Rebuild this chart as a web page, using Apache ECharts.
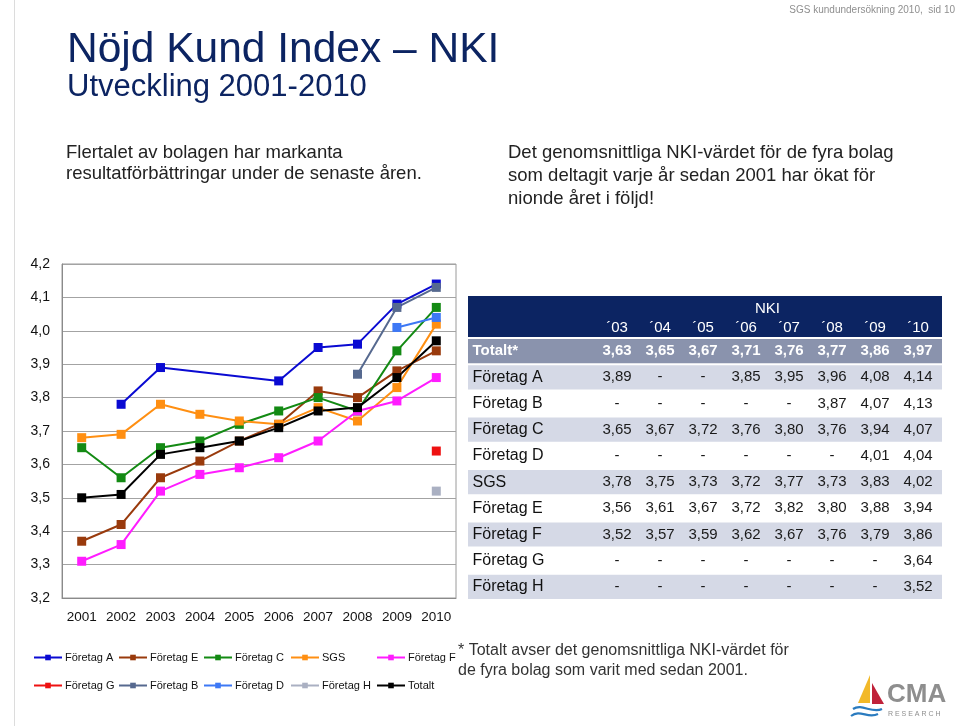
<!DOCTYPE html>
<html>
<head>
<meta charset="utf-8">
<script src="https://cdn.jsdelivr.net/npm/echarts@6/dist/echarts.min.js"></script>
<style>
  html, body { margin: 0; padding: 0; background: #fff; }
  #chart { width: 960px; height: 726px; }
</style>
</head>
<body>
<div id="chart"></div>
<script>
// ---------- DATA ----------
const years = ['2001', '2002', '2003', '2004', '2005', '2006', '2007', '2008', '2009', '2010'];
const foretagA = [null, 3.78, 3.89, null, null, 3.85, 3.95, 3.96, 4.08, 4.14];
const foretagE = [3.37, 3.42, 3.56, 3.61, 3.67, 3.72, 3.82, 3.80, 3.88, 3.94];
const foretagC = [3.65, 3.56, 3.65, 3.67, 3.72, 3.76, 3.80, 3.76, 3.94, 4.07];
const sgs      = [3.68, 3.69, 3.78, 3.75, 3.73, 3.72, 3.77, 3.73, 3.83, 4.02];
const foretagF = [3.31, 3.36, 3.52, 3.57, 3.59, 3.62, 3.67, 3.76, 3.79, 3.86];
const foretagG = [null, null, null, null, null, null, null, null, null, 3.64];
const foretagB = [null, null, null, null, null, null, null, 3.87, 4.07, 4.13];
const foretagD = [null, null, null, null, null, null, null, null, 4.01, 4.04];
const foretagH = [null, null, null, null, null, null, null, null, null, 3.52];
const totalt   = [3.50, 3.51, 3.63, 3.65, 3.67, 3.71, 3.76, 3.77, 3.86, 3.97];
const yTicks = { min: 3.2, max: 4.2, interval: 0.1 };

// table (NKI '03 - '10)
const tableYears = ['\u00B403', '\u00B404', '\u00B405', '\u00B406', '\u00B407', '\u00B408', '\u00B409', '\u00B410'];
const tableRowNames = ['Totalt*', 'Företag A', 'Företag B', 'Företag C', 'Företag D', 'SGS', 'Företag E', 'Företag F', 'Företag G', 'Företag H'];
const tableRowData = [totalt, foretagA, foretagB, foretagC, foretagD, sgs, foretagE, foretagF, foretagG, foretagH];
const tableFirstYearIndex = 2; // 2003

// ---------- STYLES ----------
const seriesDefs = [
  { name: 'Företag A', data: foretagA, color: '#0a0ad2' },
  { name: 'Företag E', data: foretagE, color: '#993a0c' },
  { name: 'Företag C', data: foretagC, color: '#138a13' },
  { name: 'SGS',       data: sgs,      color: '#ff8f12' },
  { name: 'Företag F', data: foretagF, color: '#ff1cff' },
  { name: 'Företag G', data: foretagG, color: '#ee1111' },
  { name: 'Företag B', data: foretagB, color: '#56698f' },
  { name: 'Företag D', data: foretagD, color: '#3d78f5' },
  { name: 'Företag H', data: foretagH, color: '#aab0c2' },
  { name: 'Totalt',    data: totalt,   color: '#000000' }
];
const FONT = '"Liberation Sans", Arial, Helvetica, sans-serif';
const NAVY = '#0c2462';
const rowFill = i => i === 0 ? '#8a93ad' : (i % 2 === 1 ? '#d5d9e6' : '#ffffff');

const fmt = v => (v == null ? '-' : v.toFixed(2).replace('.', ','));

// table cells
const cellData = [];
tableRowData.forEach((arr, r) => {
  tableYears.forEach((y, c) => {
    cellData.push({ value: [c, r], txt: fmt(arr[tableFirstYearIndex + c]) });
  });
});
const rowData = tableRowNames.map((n, r) => ({ value: [0, r], txt: n }));

const chart = echarts.init(document.getElementById('chart'), null, { renderer: 'canvas' });

const lineSeries = seriesDefs.map(s => ({
  name: s.name,
  type: 'line',
  xAxisIndex: 0,
  yAxisIndex: 0,
  data: s.data,
  connectNulls: true,
  symbol: 'rect',
  symbolSize: 9,
  showSymbol: true,
  lineStyle: { color: s.color, width: 2 },
  itemStyle: { color: s.color },
  emphasis: { disabled: true },
  animation: false
}));

const legendCols = [
  { left: 33,  data: ['Företag A', 'Företag G'] },
  { left: 118, data: ['Företag E', 'Företag B'] },
  { left: 203, data: ['Företag C', 'Företag D'] },
  { left: 290, data: ['SGS', 'Företag H'] },
  { left: 376, data: ['Företag F', 'Totalt'] }
];

const option = {
  backgroundColor: '#ffffff',
  animation: false,
  textStyle: { fontFamily: FONT },
  grid: [
    { left: 62, top: 264, width: 394, height: 334, show: true, borderColor: '#9a9a9a', borderWidth: 1, backgroundColor: 'transparent' },
    { left: 595.5, top: 338, width: 344, height: 262 }
  ],
  xAxis: [
    {
      gridIndex: 0, type: 'category', data: years, boundaryGap: true,
      axisLine: { show: true, lineStyle: { color: '#8a8a8a' } },
      axisTick: { show: false },
      axisLabel: { color: '#111', fontSize: 13.5, margin: 12, interval: 0, fontFamily: FONT }
    },
    {
      gridIndex: 1, type: 'category', data: tableYears, position: 'top',
      axisLine: { show: false }, axisTick: { show: false }, splitLine: { show: false },
      axisLabel: { color: '#ffffff', fontSize: 15, margin: 3, fontFamily: FONT },
      name: 'NKI', nameLocation: 'middle', nameGap: 22,
      nameTextStyle: { color: '#ffffff', fontSize: 15, fontFamily: FONT }
    }
  ],
  yAxis: [
    {
      gridIndex: 0, type: 'value', min: yTicks.min, max: yTicks.max, interval: yTicks.interval,
      axisLine: { show: true, lineStyle: { color: '#8a8a8a' } },
      axisTick: { show: false },
      splitLine: { show: true, lineStyle: { color: '#a3a3a3', width: 1 } },
      axisLabel: { color: '#111', fontSize: 14, margin: 12, fontFamily: FONT,
        formatter: v => v.toFixed(1).replace('.', ',') }
    },
    {
      gridIndex: 1, type: 'category', data: tableRowNames, inverse: true, show: false
    }
  ],
  legend: legendCols.map(c => ({
    left: c.left, top: 652, orient: 'vertical', itemGap: 17, padding: 0,
    itemWidth: 28, itemHeight: 7, data: c.data, selectedMode: false,
    textStyle: { fontSize: 11, color: '#111', fontFamily: FONT, padding: [0, 0, 0, -2] }
  })),
  series: [
    {
      type: 'custom', xAxisIndex: 1, yAxisIndex: 1, data: rowData, z: 1, silent: true,
      renderItem: (params, api) => {
        const r = api.value(1);
        const p = api.coord([0, r]);
        const h = api.size([0, 1])[1];
        const cs = params.coordSys;
        const item = rowData[params.dataIndex];
        return {
          type: 'group',
          children: [
            { type: 'rect', shape: { x: cs.x - 127.5, y: p[1] - h / 2 + 1, width: cs.width + 130, height: h - 2 },
              style: { fill: rowFill(r) } },
            { type: 'text', x: cs.x - 123, y: p[1],
              style: { text: item.txt, textAlign: 'left', textVerticalAlign: 'middle',
                fill: r === 0 ? '#ffffff' : '#111111',
                font: (r === 0 ? 'bold 15px ' : '16px ') + FONT } }
          ]
        };
      }
    },
    {
      type: 'custom', xAxisIndex: 1, yAxisIndex: 1, data: cellData, z: 2, silent: true,
      renderItem: (params, api) => {
        const c = api.value(0), r = api.value(1);
        const p = api.coord([c, r]);
        const item = cellData[params.dataIndex];
        return {
          type: 'text', x: p[0], y: p[1],
          style: { text: item.txt, textAlign: 'center', textVerticalAlign: 'middle',
            fill: r === 0 ? '#ffffff' : '#1a1a1a',
            font: (r === 0 ? 'bold 15px ' : '15px ') + FONT }
        };
      }
    }
  ].concat(lineSeries),
  graphic: [
    // left ruler
    { type: 'line', shape: { x1: 14.5, y1: 0, x2: 14.5, y2: 726 }, style: { stroke: '#dcdcdc', lineWidth: 1 }, silent: true },
    // header band of table
    { type: 'rect', z: 0, shape: { x: 468, y: 296, width: 474, height: 41 }, style: { fill: NAVY }, silent: true },
    { type: 'text', x: 955, y: 10, style: { text: 'SGS kundundersökning 2010,  sid 10', textAlign: 'right', textVerticalAlign: 'middle', fill: '#8f8f8f', font: '10px ' + FONT } },
    { type: 'text', x: 67, y: 50, style: { text: 'Nöjd Kund Index \u2013 NKI', textAlign: 'left', textVerticalAlign: 'middle', fill: NAVY, font: '42.5px ' + FONT } },
    { type: 'text', x: 67, y: 87, style: { text: 'Utveckling 2001-2010', textAlign: 'left', textVerticalAlign: 'middle', fill: NAVY, font: '31px ' + FONT } },
    { type: 'text', x: 66, y: 153, style: { text: 'Flertalet av bolagen har markanta', textAlign: 'left', textVerticalAlign: 'middle', fill: '#222', font: '18.5px ' + FONT } },
    { type: 'text', x: 66, y: 174, style: { text: 'resultatförbättringar under de senaste åren.', textAlign: 'left', textVerticalAlign: 'middle', fill: '#222', font: '18.5px ' + FONT } },
    { type: 'text', x: 508, y: 153, style: { text: 'Det genomsnittliga NKI-värdet för de fyra bolag', textAlign: 'left', textVerticalAlign: 'middle', fill: '#222', font: '18.5px ' + FONT } },
    { type: 'text', x: 508, y: 176, style: { text: 'som deltagit varje år sedan 2001 har ökat för', textAlign: 'left', textVerticalAlign: 'middle', fill: '#222', font: '18.5px ' + FONT } },
    { type: 'text', x: 508, y: 198.5, style: { text: 'nionde året i följd!', textAlign: 'left', textVerticalAlign: 'middle', fill: '#222', font: '18.5px ' + FONT } },
    { type: 'text', x: 458, y: 651, style: { text: '* Totalt avser det genomsnittliga NKI-värdet för', textAlign: 'left', textVerticalAlign: 'middle', fill: '#333', font: '16px ' + FONT } },
    { type: 'text', x: 458, y: 671, style: { text: 'de fyra bolag som varit med sedan 2001.', textAlign: 'left', textVerticalAlign: 'middle', fill: '#333', font: '16px ' + FONT } },
    // logo
    { type: 'polygon', shape: { points: [[870, 675], [858, 703], [870, 703]] }, style: { fill: '#f2b929' }, silent: true },
    { type: 'polygon', shape: { points: [[872, 683], [872, 704], [884, 704]] }, style: { fill: '#c0223a' }, silent: true },
    { type: 'bezierCurve', shape: { x1: 853, y1: 709, x2: 882, y2: 709, cpx1: 862, cpy1: 703, cpx2: 872, cpy2: 714 }, style: { stroke: '#2a7bbf', lineWidth: 2.2, fill: null }, silent: true },
    { type: 'bezierCurve', shape: { x1: 851, y1: 716, x2: 878, y2: 714, cpx1: 860, cpy1: 709, cpx2: 868, cpy2: 719 }, style: { stroke: '#2a7bbf', lineWidth: 2.2, fill: null }, silent: true },
    { type: 'text', x: 887, y: 695, style: { text: 'CMA', textAlign: 'left', textVerticalAlign: 'middle', fill: '#8e8e8e', font: 'bold 26px ' + FONT } },
    { type: 'text', x: 888, y: 714, style: { text: 'R E S E A R C H', textAlign: 'left', textVerticalAlign: 'middle', fill: '#8e8e8e', font: '7px ' + FONT } }
  ]
};

chart.setOption(option);
</script>
</body>
</html>
